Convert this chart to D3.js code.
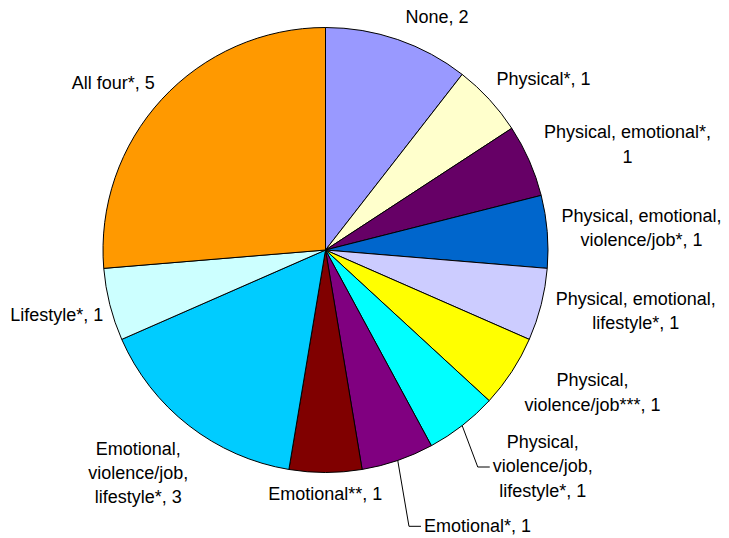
<!DOCTYPE html>
<html>
<head>
<meta charset="utf-8">
<script src="https://cdn.jsdelivr.net/npm/d3@7"></script>
<style>
body { margin: 0; background: #fff; }
text { font-family: "Liberation Sans", Arial, sans-serif; font-size: 18px; fill: #000; }
</style>
</head>
<body>
<svg id="chart"></svg>
<script>
const CATEGORIES = [
    "None",
    "Physical*",
    "Physical, emotional*",
    "Physical, emotional, violence/job*",
    "Physical, emotional, lifestyle*",
    "Physical, violence/job***",
    "Physical, violence/job, lifestyle*",
    "Emotional*",
    "Emotional**",
    "Emotional, violence/job, lifestyle*",
    "Lifestyle*",
    "All four*"
];

const VALUES = [2, 1, 1, 1, 1, 1, 1, 1, 1, 3, 1, 5];

const COLORS = ["#9999FF", "#FFFFCC", "#660066", "#0066CC", "#CCCCFF", "#FFFF00",
    "#00FFFF", "#800080", "#800000", "#00CCFF", "#CCFFFF", "#FF9900"];

const WIDTH = 729;
const HEIGHT = 538;
const CX = 325.5, CY = 250;
const RADIUS = 222.5;
const LINE_H = 24.3;
const WRAP = 172;

// label block centres, relative to the pie centre (hand placed, like the original)
const LABEL_AT = [
    [111.5, -233], [218, -171], [302, -106], [316, -22.7],
    [310.3, 60.8], [267, 142.2], [217.3, 216], [152, 275.3],
    [-0.2, 243.3], [-187.2, 222.5], [-268.8, 65], [-212.2, -167.8]
];
// which labels get an elbow leader line back to their slice
const HAS_LEADER = [false, false, false, false, false, false, true, true, false, false, false, false];

const data = CATEGORIES.map(function(c, i) {
    return { name: c, value: VALUES[i], color: COLORS[i] };
});

const svg = d3.select("#chart")
    .attr("width", WIDTH)
    .attr("height", HEIGHT);

const g = svg.append("g")
    .attr("transform", "translate(" + CX + "," + CY + ")");

const pie = d3.pie()
    .value(function(d) { return d.value; })
    .sort(null);

const arc = d3.arc()
    .innerRadius(0)
    .outerRadius(RADIUS);

const arcs = pie(data);

g.selectAll(".slice")
    .data(arcs)
    .enter()
    .append("path")
    .attr("class", "slice")
    .attr("d", arc)
    .attr("fill", function(d) { return d.data.color; })
    .attr("stroke", "#000")
    .attr("stroke-width", 1)
    .attr("stroke-linejoin", "round");

// greedy word wrap using the real font metrics
const probe = svg.append("text");
function wrap(str) {
    const words = str.split(" ");
    const lines = [];
    let cur = "";
    words.forEach(function(w) {
        const test = cur ? cur + " " + w : w;
        probe.text(test);
        if (cur && probe.node().getComputedTextLength() > WRAP) {
            lines.push(cur);
            cur = w;
        } else {
            cur = test;
        }
    });
    lines.push(cur);
    return lines;
}

const capHalf = 18 * 0.358;

arcs.forEach(function(d, i) {
    const lines = wrap(d.data.name + ", " + d.data.value);
    const pos = LABEL_AT[i];
    const t = g.append("text")
        .attr("text-anchor", "middle");
    const spans = lines.map(function(line, k) {
        return t.append("tspan")
            .attr("x", pos[0])
            .attr("y", pos[1] + (k - (lines.length - 1) / 2) * LINE_H + capHalf)
            .text(line);
    });

    if (HAS_LEADER[i]) {
        const mid = (d.startAngle + d.endAngle) / 2;
        const ex = RADIUS * Math.sin(mid);
        const ey = -RADIUS * Math.cos(mid);
        const k = Math.floor((lines.length - 1) / 2 + 0.5) === lines.length ? 0 : Math.round((lines.length - 1) / 2);
        const w = spans[k].node().getComputedTextLength();
        const left = pos[0] - w / 2;
        const ly = pos[1] + (k - (lines.length - 1) / 2) * LINE_H + 1;
        g.append("path")
            .attr("d", d3.line()([[ex, ey], [left - 15, ly], [left - 3, ly]]))
            .attr("fill", "none")
            .attr("stroke", "#000")
            .attr("stroke-width", 1);
    }
});

probe.remove();
</script>
</body>
</html>
